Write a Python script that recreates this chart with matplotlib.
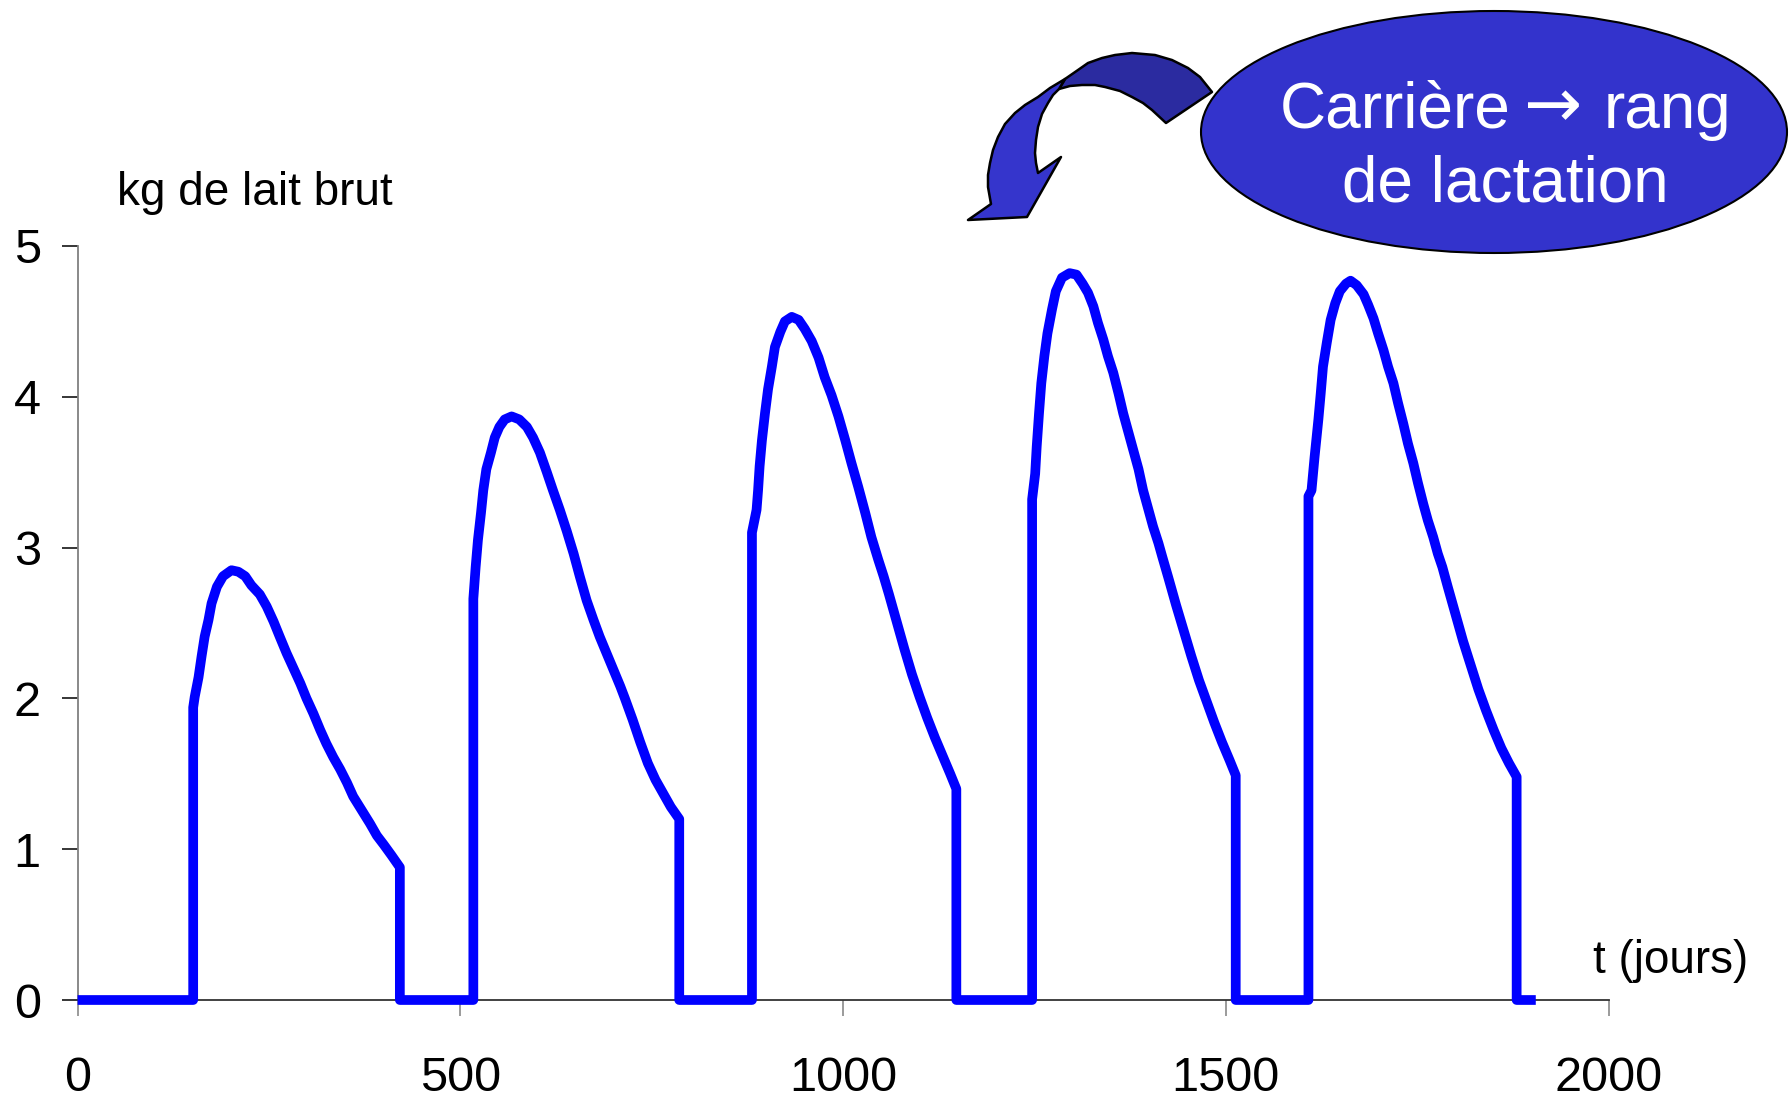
import matplotlib
matplotlib.use("Agg")
import matplotlib.pyplot as plt
from matplotlib.patches import Ellipse, Polygon
from matplotlib.transforms import Affine2D

# ---- data (day, kg of milk) ----
lact1_days = [151, 153, 158, 162, 166, 171, 175, 182, 190, 201,
              210, 219, 227, 238, 247, 256, 264, 273, 282, 291,
              299, 308, 317, 325, 334, 343, 352, 360, 371, 382,
              391, 400, 410, 421]
lact1_milk = [1.94, 2.01, 2.14, 2.28, 2.41, 2.52, 2.63, 2.74, 2.81, 2.85,
              2.84, 2.81, 2.75, 2.69, 2.61, 2.51, 2.41, 2.30, 2.20, 2.10,
              2.00, 1.90, 1.79, 1.70, 1.61, 1.53, 1.44, 1.35, 1.26, 1.17,
              1.09, 1.03, 0.96, 0.88]

lact2_days = [517, 520, 523, 527, 530, 534, 540, 545, 551, 558,
              567, 577, 587, 595, 604, 613, 621, 630, 639, 648,
              656, 665, 674, 682, 691, 700, 709, 715, 725, 735,
              745, 755, 765, 775, 786]
lact2_milk = [2.66, 2.87, 3.05, 3.23, 3.38, 3.52, 3.63, 3.73, 3.80, 3.85,
              3.87, 3.85, 3.80, 3.73, 3.63, 3.50, 3.38, 3.25, 3.11, 2.96,
              2.81, 2.65, 2.52, 2.41, 2.30, 2.19, 2.08, 2.00, 1.86, 1.71,
              1.57, 1.46, 1.37, 1.28, 1.20]

lact3_days = [881, 887, 889, 891, 894, 898, 902, 907, 911, 918,
              924, 933, 942, 950, 959, 968, 976, 985, 994, 1003,
              1011, 1020, 1029, 1037, 1046, 1053, 1060, 1070, 1080, 1090,
              1100, 1110, 1120, 1130, 1140, 1148]
lact3_milk = [3.10, 3.25, 3.38, 3.54, 3.71, 3.89, 4.05, 4.20, 4.33, 4.43,
              4.50, 4.53, 4.51, 4.45, 4.37, 4.26, 4.13, 4.01, 3.87, 3.71,
              3.56, 3.40, 3.23, 3.07, 2.92, 2.81, 2.69, 2.51, 2.33, 2.16,
              2.01, 1.87, 1.74, 1.62, 1.50, 1.40]

lact4_days = [1247, 1251, 1253, 1256, 1259, 1263, 1267, 1273, 1278, 1286,
              1296, 1305, 1313, 1320, 1327, 1333, 1340, 1346, 1353, 1360,
              1366, 1373, 1379, 1386, 1392, 1399, 1405, 1412, 1417, 1425,
              1435, 1445, 1455, 1465, 1475, 1485, 1495, 1505, 1513]
lact4_milk = [3.32, 3.49, 3.67, 3.89, 4.09, 4.27, 4.42, 4.58, 4.70, 4.79,
              4.82, 4.81, 4.75, 4.69, 4.60, 4.49, 4.38, 4.27, 4.16, 4.02,
              3.89, 3.76, 3.65, 3.52, 3.38, 3.25, 3.14, 3.03, 2.94, 2.80,
              2.62, 2.45, 2.28, 2.12, 1.98, 1.84, 1.71, 1.59, 1.49]

lact5_days = [1608, 1612, 1616, 1621, 1624, 1627, 1632, 1637, 1643, 1649,
              1657, 1663, 1671, 1680, 1686, 1693, 1699, 1706, 1712, 1719,
              1725, 1732, 1738, 1745, 1751, 1758, 1764, 1771, 1777, 1783,
              1790, 1800, 1810, 1820, 1830, 1840, 1850, 1860, 1870, 1880]
lact5_milk = [3.34, 3.38, 3.60, 3.85, 4.02, 4.20, 4.36, 4.51, 4.62, 4.70,
              4.75, 4.77, 4.74, 4.68, 4.61, 4.52, 4.42, 4.31, 4.20, 4.09,
              3.96, 3.82, 3.69, 3.56, 3.43, 3.29, 3.18, 3.07, 2.96, 2.87,
              2.74, 2.56, 2.38, 2.22, 2.06, 1.92, 1.79, 1.67, 1.57, 1.48]

last_day = 1905
x_ticks = [0, 500, 1000, 1500, 2000]
y_ticks = [0, 1, 2, 3, 4, 5]

# ---- build the whole career curve: zero between lactations ----
days = [0]
milk = [0]
for d, m in [(lact1_days, lact1_milk), (lact2_days, lact2_milk),
             (lact3_days, lact3_milk), (lact4_days, lact4_milk),
             (lact5_days, lact5_milk)]:
    days += [d[0]] + d + [d[-1]]
    milk += [0] + m + [0]
days.append(last_day)
milk.append(0)

W, H = 1789, 1103
plt.rcParams['font.family'] = ['Liberation Sans', 'DejaVu Sans']
fig = plt.figure(figsize=(W / 100, H / 100), dpi=100)
ax = fig.add_axes([77.6 / W, 1 - 1000 / H, (1608.5 - 77.6) / W, (1000 - 246) / H])

ax.plot(days, milk, color='#0000FF', lw=7, solid_joinstyle='round',
        solid_capstyle='butt', clip_on=False, zorder=3)

ax.set_xlim(0, 2000)
ax.set_ylim(0, 5)
ax.set_xticks(x_ticks)
ax.set_yticks(y_ticks)
for s in ['top', 'right']:
    ax.spines[s].set_visible(False)
ax.spines['left'].set_color('#808080')
ax.spines['left'].set_linewidth(1.3)
ax.spines['bottom'].set_color('#333333')
ax.spines['bottom'].set_linewidth(1.3)
ax.tick_params(axis='both', direction='out', length=11.5, width=1.1,
               labelsize=35, colors='black')
ax.tick_params(axis='x', pad=29, color='#808080')
ax.tick_params(axis='y', pad=15)

# pixel coordinates (origin top-left) -> figure
px = Affine2D().scale(1 / W, -1 / H).translate(0, 1) + fig.transFigure

fig.text(117 / W, 1 - 205 / H, "kg de lait brut", fontsize=33,
         va='baseline', ha='left')
fig.text(1593 / W, 1 - 973 / H, "t (jours)", fontsize=33,
         va='baseline', ha='left')

# ellipse with the caption
ell = Ellipse((1494, 132), 586, 242, transform=px, facecolor='#3333CC',
              edgecolor='black', lw=1.5)
fig.add_artist(ell)
fig.text(1280 / W, 1 - 128 / H, "Carrière", fontsize=46,
         color='white', ha='left', va='baseline')
fig.text(1553 / W, 1 - 108 / H, "\u2192", fontsize=50, family='DejaVu Sans',
         color='white', ha='center', va='center')
fig.text(1731 / W, 1 - 128 / H, "rang", fontsize=46,
         color='white', ha='right', va='baseline')
fig.text(1505 / W, 1 - 202 / H, "de lactation", fontsize=46,
         color='white', ha='center', va='baseline')

# curved block arrow (back part darker)
arrow_back = [(1212, 92), (1200, 77), (1188, 68), (1172, 60), (1155, 55),
              (1132, 53), (1115, 55), (1102, 58), (1088, 63), (1078, 70),
              (1065, 79), (1059, 89), (1070, 86), (1082, 85), (1095, 85),
              (1105, 87), (1120, 91), (1132, 97), (1143, 103), (1152, 110),
              (1166, 123)]
arrow_front = [(1065, 79), (1050, 88), (1038, 97), (1025, 105), (1015, 113),
               (1005, 124), (998, 137), (993, 150), (990, 163), (988, 175),
               (988, 187), (991, 204), (968, 220), (1027, 217), (1061, 157),
               (1038, 173), (1036, 163), (1035, 153), (1036, 140),
               (1038, 127), (1042, 114), (1048, 103), (1053, 95), (1059, 89)]
fig.add_artist(Polygon(arrow_back, closed=True, transform=px,
                       facecolor='#2B2BA0', edgecolor='black', lw=1.8,
                       joinstyle='round'))
fig.add_artist(Polygon(arrow_front, closed=True, transform=px,
                       facecolor='#3535CC', edgecolor='black', lw=1.8,
                       joinstyle='round'))

fig.savefig("out.png", dpi=100)
plt.close(fig)
